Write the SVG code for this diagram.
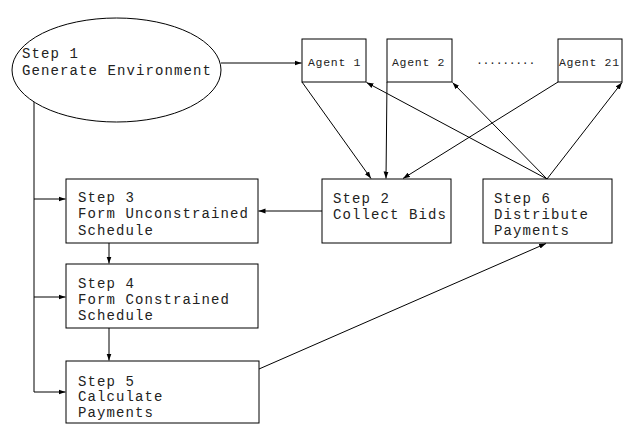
<svg xmlns="http://www.w3.org/2000/svg" width="633" height="425" viewBox="0 0 633 425">
<style>
.box{fill:#fff;stroke:#000;stroke-width:1}
.t{font-family:"Liberation Mono","Courier New",monospace;font-size:14px;letter-spacing:1.1px;fill:#222}
.a{font-family:"Liberation Mono","Courier New",monospace;font-size:11.5px;letter-spacing:0.7px;fill:#222}
.c{fill:none;stroke:#000;stroke-width:1}
</style>
<defs>
<marker id="ah" markerUnits="userSpaceOnUse" markerWidth="8" markerHeight="6" refX="7" refY="3" orient="auto">
<path d="M0,0.5 L7,3 L0,5.5 z" fill="#000"/>
</marker>
</defs>
<rect width="633" height="425" fill="#fff"/>
<g id="connectors">
<line class="c" x1="221" y1="63" x2="301.5" y2="63" marker-end="url(#ah)"/>
<line class="c" x1="34" y1="102" x2="34" y2="392"/>
<line class="c" x1="34" y1="199" x2="65.5" y2="199" marker-end="url(#ah)"/>
<line class="c" x1="34" y1="297" x2="65.5" y2="297" marker-end="url(#ah)"/>
<line class="c" x1="34" y1="392" x2="65.5" y2="392" marker-end="url(#ah)"/>
<line class="c" x1="109" y1="243" x2="109" y2="263.5" marker-end="url(#ah)"/>
<line class="c" x1="109" y1="328" x2="109" y2="360.5" marker-end="url(#ah)"/>
<line class="c" x1="322" y1="211" x2="258.5" y2="211" marker-end="url(#ah)"/>
<line class="c" x1="259" y1="369" x2="546" y2="243.5" marker-end="url(#ah)"/>
<line class="c" x1="302" y1="82" x2="371" y2="178.5" marker-end="url(#ah)"/>
<line class="c" x1="387" y1="82" x2="386" y2="178.5" marker-end="url(#ah)"/>
<line class="c" x1="558" y1="82" x2="403" y2="178.5" marker-end="url(#ah)"/>
<line class="c" x1="547" y1="179" x2="366.5" y2="82.5" marker-end="url(#ah)"/>
<line class="c" x1="547" y1="179" x2="452.5" y2="82.5" marker-end="url(#ah)"/>
<line class="c" x1="547" y1="179" x2="622" y2="82.5" marker-end="url(#ah)"/>
</g>
<g id="step1">
<ellipse class="box" cx="116.5" cy="70" rx="104.5" ry="52"/>
<text class="t" x="22" y="58">Step 1</text>
<text class="t" x="22" y="75">Generate Environment</text>
</g>
<g id="agent1">
<rect class="box" x="302" y="39" width="64" height="43"/>
<text class="a" x="308" y="66">Agent 1</text>
</g>
<g id="agent2">
<rect class="box" x="387" y="39" width="65" height="43"/>
<text class="a" x="392" y="66">Agent 2</text>
</g>
<g id="dots">
<text class="a" x="476" y="64" textLength="60" lengthAdjust="spacing">.........</text>
</g>
<g id="agent21">
<rect class="box" x="558" y="39" width="64" height="43"/>
<text class="a" x="559" y="66">Agent 21</text>
</g>
<g id="step2">
<rect class="box" x="322" y="179" width="129" height="64"/>
<text class="t" x="333" y="202.5">Step 2</text>
<text class="t" x="333" y="218.5">Collect Bids</text>
</g>
<g id="step6">
<rect class="box" x="483" y="179" width="129" height="64"/>
<text class="t" x="494" y="202.5">Step 6</text>
<text class="t" x="494" y="218.5">Distribute</text>
<text class="t" x="494" y="234.5">Payments</text>
</g>
<g id="step3">
<rect class="box" x="66" y="179" width="192" height="64"/>
<text class="t" x="78" y="202">Step 3</text>
<text class="t" x="78" y="218">Form Unconstrained</text>
<text class="t" x="78" y="234.5">Schedule</text>
</g>
<g id="step4">
<rect class="box" x="66" y="264" width="192" height="64"/>
<text class="t" x="78" y="288">Step 4</text>
<text class="t" x="78" y="304">Form Constrained</text>
<text class="t" x="78" y="320">Schedule</text>
</g>
<g id="step5">
<rect class="box" x="66" y="361" width="193" height="62"/>
<text class="t" x="78" y="385.5">Step 5</text>
<text class="t" x="78" y="401">Calculate</text>
<text class="t" x="78" y="416.5">Payments</text>
</g>
</svg>
